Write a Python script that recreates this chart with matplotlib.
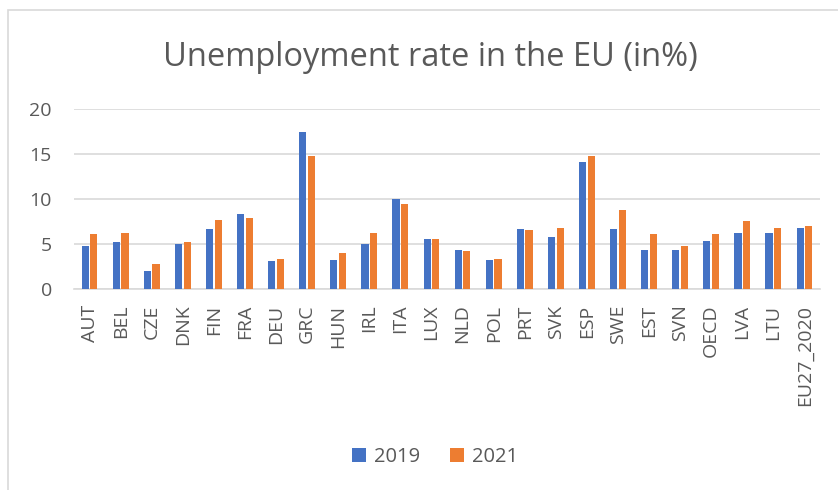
import numpy as np
import matplotlib
matplotlib.use("Agg")
import matplotlib.pyplot as plt
from matplotlib.patches import Rectangle

countries = ["AUT", "BEL", "CZE", "DNK", "FIN", "FRA", "DEU", "GRC", "HUN", "IRL",
             "ITA", "LUX", "NLD", "POL", "PRT", "SVK", "ESP", "SWE", "EST", "SVN",
             "OECD", "LVA", "LTU", "EU27_2020"]
rate_2019 = [4.8, 5.3, 2.0, 5.0, 6.7, 8.4, 3.1, 17.4, 3.3, 5.0,
             10.0, 5.6, 4.4, 3.3, 6.7, 5.8, 14.1, 6.7, 4.4, 4.4,
             5.4, 6.3, 6.3, 6.8]
rate_2021 = [6.1, 6.2, 2.8, 5.2, 7.7, 7.9, 3.4, 14.8, 4.0, 6.2,
             9.5, 5.6, 4.2, 3.4, 6.6, 6.8, 14.8, 8.8, 6.1, 4.8,
             6.1, 7.6, 6.8, 7.0]

BLUE = "#4472C4"
ORANGE = "#ED7D31"
TXT = "#595959"
GRID = "#D9D9D9"

plt.rcParams["font.family"] = ["Open Sans", "DejaVu Sans"]

fig = plt.figure(figsize=(8.38, 4.9), dpi=100)
# chart frame (Excel chart area border)
fig.patches.append(Rectangle((8 / 838, -0.1), 1.2, 1 - 10 / 490 + 0.1,
                             transform=fig.transFigure, fill=False,
                             edgecolor=GRID, lw=1.2))

ax = fig.add_axes([74 / 838, 1 - 289.3 / 490, (820 - 74) / 838, (289.3 - 109) / 490])
x = np.arange(len(countries))
w = 0.23
ax.bar(x - 0.14, rate_2019, w, color=BLUE, label="2019", zorder=3)
ax.bar(x + 0.14, rate_2021, w, color=ORANGE, label="2021", zorder=3)

ax.set_xlim(-0.5, len(countries) - 0.5)
ax.set_ylim(0, 20)
ax.set_yticks([0, 5, 10, 15, 20])
ax.yaxis.grid(True, color=GRID, lw=1.2, zorder=0)
ax.set_axisbelow(True)
for s in ["top", "right", "left"]:
    ax.spines[s].set_visible(False)
ax.spines["bottom"].set_color(GRID)
ax.spines["bottom"].set_linewidth(1.2)

ax.set_xticks(x)
ax.set_xticklabels(countries, rotation=90, va="top", ha="center")
ax.tick_params(axis="x", length=0, pad=11, labelsize=14, labelcolor=TXT)
ax.tick_params(axis="y", length=0, pad=16, labelsize=14, labelcolor=TXT)

fig.text(430 / 838, 1 - 58 / 490, "Unemployment rate in the EU (in%)",
         ha="center", va="center", fontsize=23.5, color=TXT)

leg = fig.legend(loc="center", bbox_to_anchor=(435 / 838, 1 - 457 / 490), ncol=2,
                 frameon=False, fontsize=14.5, handlelength=0.7, handleheight=0.7,
                 handletextpad=0.4, columnspacing=1.5)
for t in leg.get_texts():
    t.set_color(TXT)

fig.savefig("out.png", dpi=100)
